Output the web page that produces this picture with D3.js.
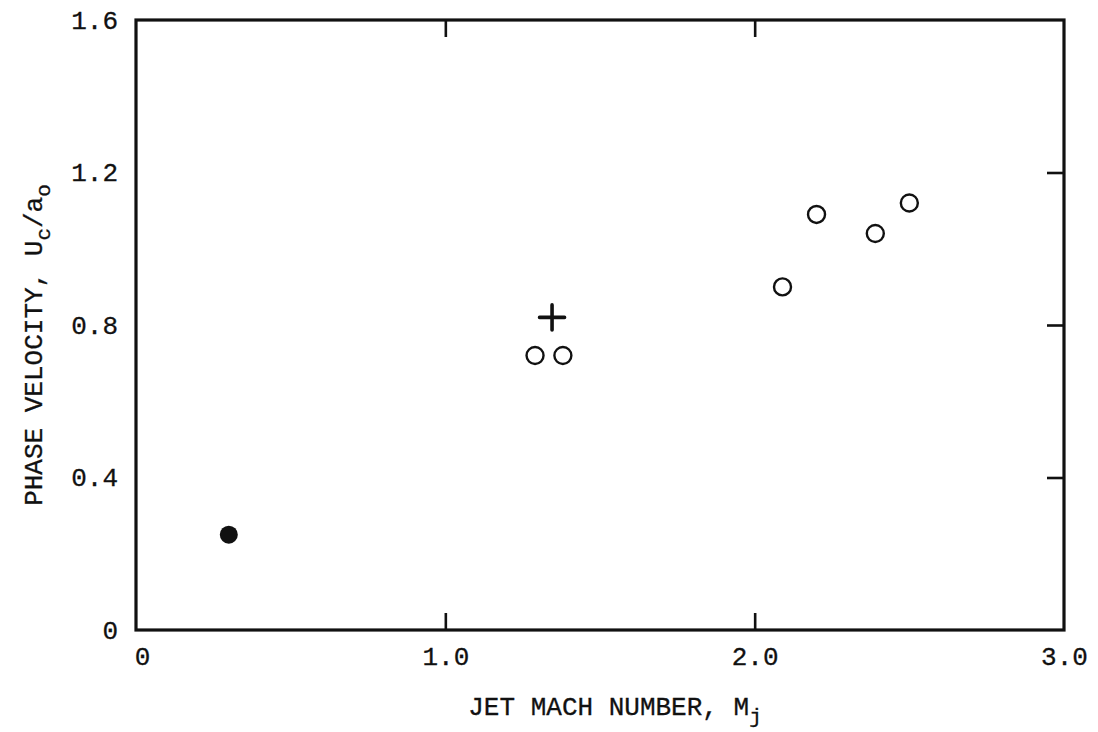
<!DOCTYPE html>
<html>
<head>
<meta charset="utf-8">
<script src="https://cdn.jsdelivr.net/npm/d3@7"></script>
<style>
  html, body { margin: 0; padding: 0; background: #fff; }
  svg { display: block; }
  text { font-family: "Liberation Mono", "DejaVu Sans Mono", monospace; fill: #111; }
</style>
</head>
<body>
<svg id="chart" width="1098" height="732"></svg>
<script>
// ---- data ----
const openMach = [1.29, 1.38, 2.09, 2.20, 2.39, 2.50];
const openPhase = [0.72, 0.72, 0.90, 1.09, 1.04, 1.12];
const filledMach = [0.30];
const filledPhase = [0.25];
const crossMach = [1.345];
const crossPhase = [0.82];
const xTickValues = [0, 1, 2, 3];
const xTickLabels = ["0", "1.0", "2.0", "3.0"];
const yTickValues = [0, 0.4, 0.8, 1.2, 1.6];
const yTickLabels = ["0", "0.4", "0.8", "1.2", "1.6"];

(function () {
// ---- layout ----
const svg = d3.select("#chart");
const pL = 136, pR = 1064, pT = 20, pB = 630;
const x = d3.scaleLinear().domain([0, 3]).range([pL, pR]);
const y = d3.scaleLinear().domain([0, 1.6]).range([pB, pT]);
const ink = "#111";
const fs = 26;

// frame
svg.append("rect").attr("x", pL).attr("y", pT)
  .attr("width", pR - pL).attr("height", pB - pT)
  .attr("fill", "none").attr("stroke", ink).attr("stroke-width", 3.2);

function styleTicks(g) {
  g.select(".domain").remove();
  g.selectAll(".tick line").attr("stroke", ink).attr("stroke-width", 2.6);
}

// inward ticks (no labels)
svg.append("g").attr("transform", `translate(0,${pT})`)
  .call(d3.axisTop(x).tickValues([1, 2]).tickSize(-17).tickFormat(""))
  .call(styleTicks);
svg.append("g").attr("transform", `translate(0,${pB})`)
  .call(d3.axisBottom(x).tickValues([1, 2]).tickSize(-17).tickFormat(""))
  .call(styleTicks);
svg.append("g").attr("transform", `translate(${pR},0)`)
  .call(d3.axisRight(y).tickValues([0.4, 0.8, 1.2]).tickSize(-17).tickFormat(""))
  .call(styleTicks);

// tick labels
const xl = svg.append("g").attr("transform", `translate(0,${pB})`)
  .call(d3.axisBottom(x).tickValues(xTickValues).tickSize(0).tickPadding(17)
    .tickFormat((d, i) => xTickLabels[i]));
xl.select(".domain").remove();
xl.selectAll("text").attr("font-size", fs).attr("font-family", "Liberation Mono")
  .attr("fill", ink).attr("stroke", ink).attr("stroke-width", 0.3);
xl.selectAll(".tick").filter(d => d === 0).select("text").attr("dx", 6);

const yl = svg.append("g").attr("transform", `translate(${pL},0)`)
  .call(d3.axisLeft(y).tickValues(yTickValues).tickSize(0).tickPadding(18)
    .tickFormat((d, i) => yTickLabels[i]));
yl.select(".domain").remove();
yl.selectAll("text").attr("font-size", fs).attr("font-family", "Liberation Mono")
  .attr("fill", ink).attr("stroke", ink).attr("stroke-width", 0.3);

// axis titles
const xt = svg.append("text").attr("x", 615).attr("y", 715)
  .attr("text-anchor", "middle").attr("font-size", fs)
  .attr("stroke", ink).attr("stroke-width", 0.3);
xt.append("tspan").text("JET MACH NUMBER, M");
xt.append("tspan").attr("dy", 8).attr("font-size", 21).text("j");

const yt = svg.append("text")
  .attr("transform", `translate(42,${(pT + pB) / 2 + 20}) rotate(-90)`)
  .attr("text-anchor", "middle").attr("font-size", fs)
  .attr("stroke", ink).attr("stroke-width", 0.3);
yt.append("tspan").text("PHASE VELOCITY, U");
yt.append("tspan").attr("dy", 8).attr("font-size", 21).text("c");
yt.append("tspan").attr("dy", -8).text("/a");
yt.append("tspan").attr("dy", 8).attr("font-size", 21).text("o");

// marks
const openData = openMach.map((m, i) => ({ m, p: openPhase[i] }));
svg.append("g").selectAll("circle").data(openData).join("circle")
  .attr("cx", d => x(d.m)).attr("cy", d => y(d.p)).attr("r", 8.5)
  .attr("fill", "none").attr("stroke", ink).attr("stroke-width", 2.4);

const filledData = filledMach.map((m, i) => ({ m, p: filledPhase[i] }));
svg.append("g").selectAll("circle").data(filledData).join("circle")
  .attr("cx", d => x(d.m)).attr("cy", d => y(d.p)).attr("r", 9)
  .attr("fill", ink);

const crossData = crossMach.map((m, i) => ({ m, p: crossPhase[i] }));
svg.append("g").selectAll("path").data(crossData).join("path")
  .attr("d", d => {
    const cx = x(d.m), cy = y(d.p), h = 12.5;
    return `M${cx - h},${cy}H${cx + h}M${cx},${cy - h}V${cy + h}`;
  })
  .attr("stroke", ink).attr("stroke-width", 3.6).attr("stroke-linecap", "round");
})();
</script>
</body>
</html>
